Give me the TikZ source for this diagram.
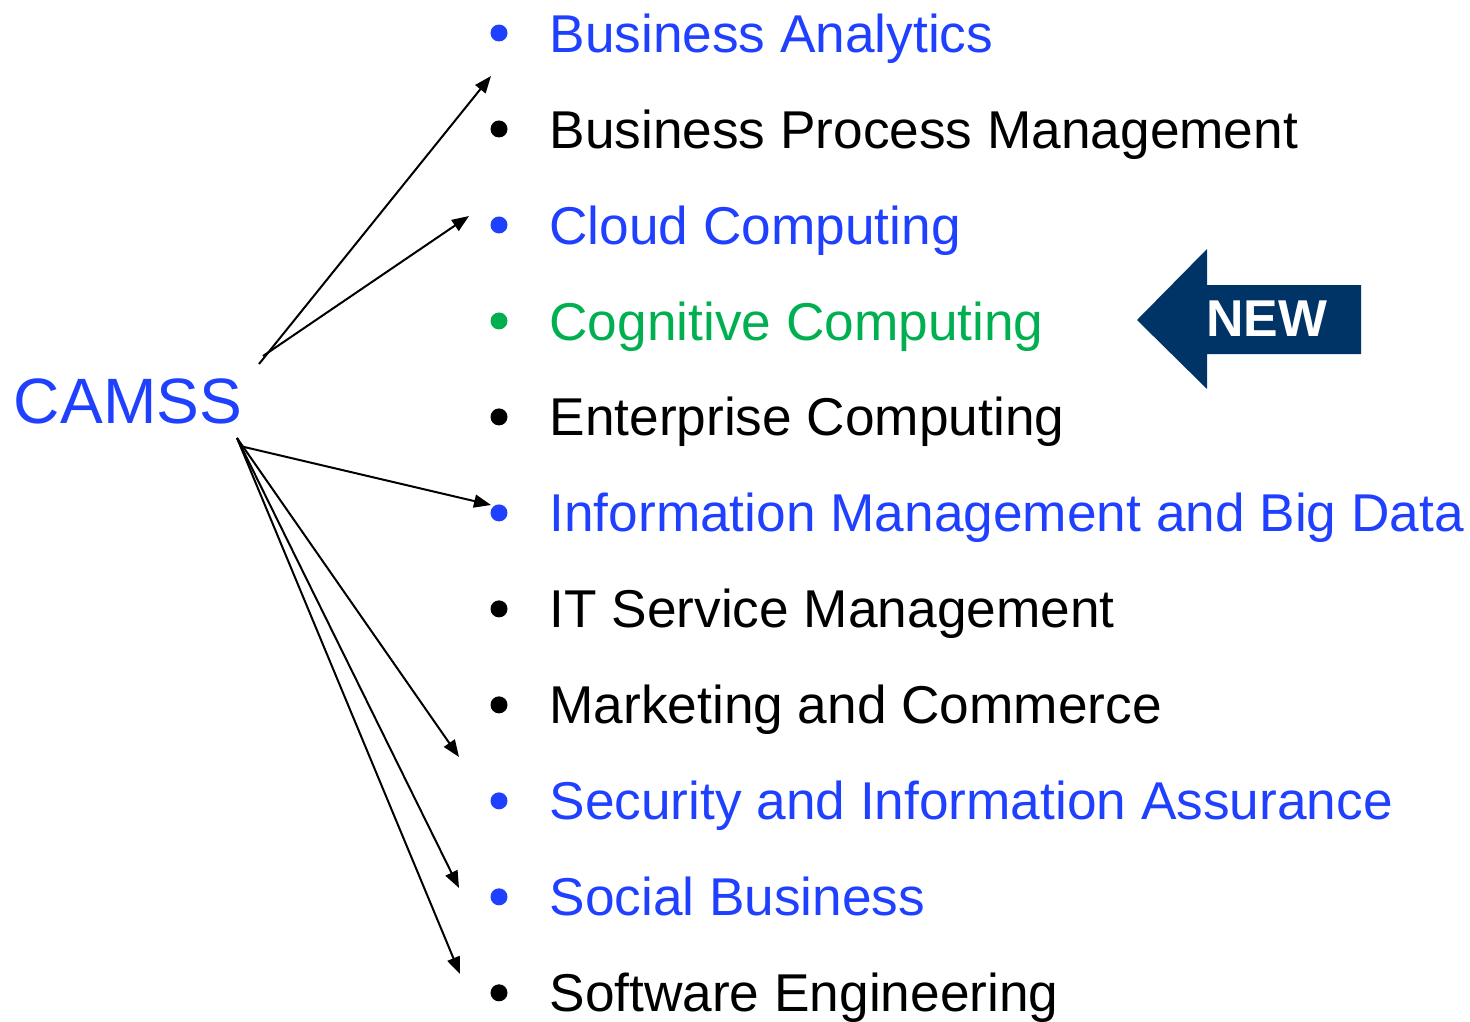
\documentclass[tikz,border=0pt]{standalone}
\usepackage{fontspec}
\setmainfont{Liberation Sans}
\usetikzlibrary{positioning,arrows.meta}

\definecolor{camssblue}{RGB}{32,64,255}
\definecolor{camssgreen}{RGB}{0,176,80}
\definecolor{newnavy}{RGB}{0,51,102}

\tikzset{
  dot/.style={circle, fill, inner sep=0pt, minimum size=0.34cm},
  item/.style={font=\fontsize{30.3}{36}\selectfont, inner sep=0pt,
    text height=21.7pt, text depth=0pt, right=0.8cm of #1},
}

\begin{document}
\begin{tikzpicture}[x=0.02cm, y=-0.02cm, node distance=1.92cm,
  >={Triangle[length=0.34cm,width=0.26cm]}, line width=0.04cm]
\useasboundingbox (0,0) rectangle (1470,1021);

\node[font=\fontsize{36.5}{43}\selectfont, text=camssblue] (camss) at (128,401) {CAMSS};

% bullets
\node[dot, camssblue] (d1) at (499,33) {};
\node[dot] (d2) [below of=d1] {};
\node[dot, camssblue] (d3) [below of=d2] {};
\node[dot, camssgreen] (d4) [below of=d3] {};
\node[dot] (d5) [below of=d4] {};
\node[dot, camssblue] (d6) [below of=d5] {};
\node[dot] (d7) [below of=d6] {};
\node[dot] (d8) [below of=d7] {};
\node[dot, camssblue] (d9) [below of=d8] {};
\node[dot, camssblue] (d10) [below of=d9] {};
\node[dot] (d11) [below of=d10] {};

% topics
\node[item=d1, text=camssblue] (ba) {Business Analytics};
\node[item=d2] (bpm) {Business Process Management};
\node[item=d3, text=camssblue] (cc) {Cloud Computing};
\node[item=d4, text=camssgreen] (cog) {Cognitive Computing};
\node[item=d5] (ec) {Enterprise Computing};
\node[item=d6, text=camssblue] (imbd) {Information Management and Big Data};
\node[item=d7] (itsm) {IT Service Management};
\node[item=d8] (mc) {Marketing and Commerce};
\node[item=d9, text=camssblue] (sia) {Security and Information Assurance};
\node[item=d10, text=camssblue] (sb) {Social Business};
\node[item=d11] (se) {Software Engineering};

% NEW marker
\fill[newnavy] (1137,320) -- (1207,249) -- (1207,285) -- (1361,285)
  -- (1361,354) -- (1207,354) -- (1207,389) -- cycle;
\node[font=\bfseries\fontsize{29.5}{35}\selectfont, text=white] (new) at (1267,319) {NEW};

% arrows
\coordinate (upA) at (259,364);
\coordinate (upB) at (263,356);
\coordinate (loA) at (237,438);
\coordinate (loB) at (240,446);
\coordinate (baIn) at (491,76);
\coordinate (ccIn) at (469,216);
\coordinate (imbdIn) at (491,505);
\coordinate (siaIn) at (459,757);
\coordinate (sbIn) at (459,888);
\coordinate (seIn) at (460,974);
\draw[->] (upA) -- (baIn);
\draw[->] (upB) -- (ccIn);
\draw[->] (loB) -- (imbdIn);
\draw[->] (loA) -- (siaIn);
\draw[->] (loA) -- (sbIn);
\draw[->] (loA) -- (seIn);
\end{tikzpicture}
\end{document}
